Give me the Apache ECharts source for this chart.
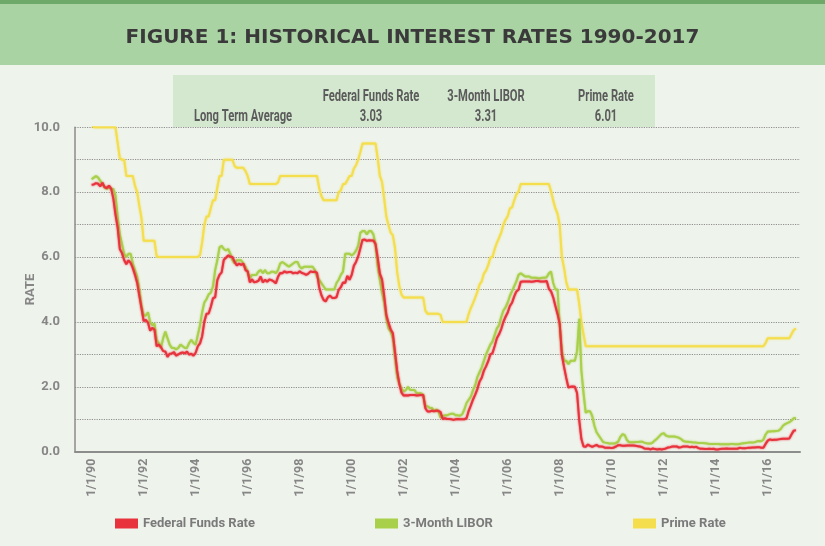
<!DOCTYPE html>
<html>
<head>
<meta charset="utf-8">
<script src="https://cdn.jsdelivr.net/npm/echarts@6/dist/echarts.min.js"></script>
<style>
  html, body { margin: 0; padding: 0; background: #eef3ec; }
  #chart { width: 825px; height: 546px; }
</style>
</head>
<body>
<div id="chart"></div>
<script>
// monthly averages, Jan 1990 .. Feb 2017
const startYear = 1990;

const fedFunds = [
  8.23, 8.24, 8.28, 8.26, 8.18, 8.29, 8.15, 8.13, 8.20, 8.11, 7.81, 7.31,
  6.91, 6.25, 6.12, 5.91, 5.78, 5.90, 5.82, 5.66, 5.45, 5.21, 4.81, 4.43,
  4.03, 4.06, 3.98, 3.73, 3.82, 3.76, 3.25, 3.30, 3.22, 3.10, 3.09, 2.92,
  3.02, 3.03, 3.07, 2.96, 3.00, 3.04, 3.06, 3.03, 3.09, 2.99, 3.02, 2.96,
  3.05, 3.25, 3.34, 3.56, 4.01, 4.25, 4.26, 4.47, 4.73, 4.76, 5.29, 5.45,
  5.53, 5.92, 5.98, 6.05, 6.01, 6.00, 5.85, 5.74, 5.80, 5.76, 5.80, 5.60,
  5.56, 5.22, 5.31, 5.22, 5.24, 5.27, 5.40, 5.22, 5.30, 5.24, 5.31, 5.29,
  5.25, 5.19, 5.39, 5.51, 5.50, 5.56, 5.52, 5.54, 5.54, 5.50, 5.52, 5.50,
  5.56, 5.51, 5.49, 5.45, 5.49, 5.56, 5.54, 5.55, 5.51, 5.07, 4.83, 4.68,
  4.63, 4.76, 4.81, 4.74, 4.74, 4.76, 4.99, 5.07, 5.22, 5.20, 5.42, 5.30,
  5.45, 5.73, 5.85, 6.02, 6.27, 6.53, 6.54, 6.50, 6.52, 6.51, 6.51, 6.40,
  5.98, 5.49, 5.31, 4.80, 4.21, 3.97, 3.77, 3.65, 3.07, 2.49, 2.09, 1.82,
  1.73, 1.74, 1.73, 1.75, 1.75, 1.75, 1.73, 1.74, 1.75, 1.75, 1.34, 1.24,
  1.24, 1.26, 1.25, 1.26, 1.26, 1.22, 1.01, 1.03, 1.01, 1.01, 1.00, 0.98,
  1.00, 1.01, 1.00, 1.00, 1.00, 1.03, 1.26, 1.43, 1.61, 1.76, 1.93, 2.16,
  2.28, 2.50, 2.63, 2.79, 3.00, 3.04, 3.26, 3.50, 3.62, 3.78, 4.00, 4.16,
  4.29, 4.49, 4.59, 4.79, 4.94, 4.99, 5.24, 5.25, 5.25, 5.25, 5.25, 5.24,
  5.25, 5.26, 5.26, 5.25, 5.25, 5.25, 5.26, 5.02, 4.94, 4.76, 4.49, 4.24,
  3.94, 2.98, 2.61, 2.28, 1.98, 2.00, 2.01, 2.00, 1.81, 0.97, 0.39, 0.16,
  0.15, 0.22, 0.18, 0.15, 0.18, 0.21, 0.16, 0.16, 0.15, 0.12, 0.12, 0.12,
  0.11, 0.13, 0.16, 0.20, 0.20, 0.18, 0.18, 0.19, 0.19, 0.19, 0.19, 0.18,
  0.17, 0.16, 0.14, 0.10, 0.09, 0.09, 0.07, 0.10, 0.08, 0.07, 0.08, 0.07,
  0.08, 0.10, 0.13, 0.14, 0.16, 0.16, 0.16, 0.13, 0.14, 0.16, 0.16, 0.16,
  0.14, 0.15, 0.14, 0.15, 0.11, 0.09, 0.09, 0.08, 0.08, 0.09, 0.08, 0.09,
  0.07, 0.07, 0.08, 0.09, 0.09, 0.10, 0.09, 0.09, 0.09, 0.09, 0.09, 0.12,
  0.11, 0.11, 0.11, 0.12, 0.12, 0.13, 0.13, 0.14, 0.14, 0.12, 0.12, 0.24,
  0.34, 0.38, 0.36, 0.37, 0.37, 0.38, 0.39, 0.40, 0.40, 0.40, 0.41, 0.54,
  0.65, 0.66
];

const libor3m = [
  8.40, 8.45, 8.50, 8.45, 8.35, 8.25, 8.15, 8.10, 8.15, 8.10, 8.10, 7.90,
  7.25, 6.70, 6.40, 6.10, 6.00, 6.10, 6.10, 5.80, 5.60, 5.40, 5.00, 4.50,
  4.20, 4.20, 4.30, 4.00, 3.90, 3.95, 3.45, 3.35, 3.20, 3.50, 3.70, 3.50,
  3.30, 3.20, 3.20, 3.15, 3.20, 3.30, 3.25, 3.20, 3.20, 3.35, 3.45, 3.35,
  3.30, 3.60, 3.90, 4.30, 4.60, 4.70, 4.85, 4.90, 5.10, 5.60, 5.90, 6.30,
  6.35, 6.25, 6.20, 6.25, 6.10, 5.90, 5.80, 5.90, 5.90, 5.90, 5.80, 5.70,
  5.55, 5.35, 5.45, 5.45, 5.45, 5.55, 5.60, 5.50, 5.60, 5.50, 5.50, 5.55,
  5.55, 5.50, 5.60, 5.80, 5.85, 5.80, 5.75, 5.70, 5.75, 5.80, 5.85, 5.85,
  5.70, 5.65, 5.70, 5.70, 5.70, 5.70, 5.70, 5.60, 5.40, 5.30, 5.20, 5.10,
  5.00, 5.00, 5.00, 5.00, 5.00, 5.20, 5.30, 5.45, 5.55, 6.10, 6.10, 6.10,
  6.05, 6.10, 6.20, 6.35, 6.75, 6.80, 6.80, 6.70, 6.80, 6.80, 6.70, 6.40,
  5.70, 5.30, 4.90, 4.60, 4.10, 3.80, 3.70, 3.50, 2.90, 2.30, 2.10, 1.95,
  1.85, 1.90, 2.00, 1.90, 1.90, 1.90, 1.80, 1.80, 1.80, 1.75, 1.40, 1.40,
  1.35, 1.35, 1.25, 1.30, 1.25, 1.05, 1.10, 1.12, 1.12, 1.15, 1.17, 1.17,
  1.12, 1.12, 1.11, 1.15, 1.30, 1.50, 1.60, 1.70, 1.90, 2.05, 2.30, 2.45,
  2.60, 2.80, 3.00, 3.15, 3.30, 3.40, 3.60, 3.80, 3.90, 4.15, 4.35, 4.45,
  4.60, 4.80, 4.95, 5.10, 5.25, 5.45, 5.50, 5.45, 5.40, 5.40, 5.40, 5.36,
  5.36, 5.36, 5.35, 5.35, 5.36, 5.36, 5.38, 5.50, 5.55, 5.20, 5.00, 5.00,
  3.90, 3.10, 2.80, 2.80, 2.70, 2.80, 2.80, 2.80, 3.10, 4.10, 2.50, 1.80,
  1.20, 1.25, 1.25, 1.10, 0.80, 0.60, 0.50, 0.40, 0.30, 0.28, 0.27, 0.25,
  0.25, 0.25, 0.27, 0.31, 0.46, 0.54, 0.51, 0.36, 0.29, 0.29, 0.29, 0.30,
  0.30, 0.31, 0.31, 0.28, 0.26, 0.25, 0.25, 0.29, 0.35, 0.41, 0.48, 0.55,
  0.57, 0.50, 0.47, 0.47, 0.47, 0.47, 0.45, 0.43, 0.39, 0.33, 0.31, 0.31,
  0.30, 0.29, 0.28, 0.28, 0.27, 0.27, 0.27, 0.26, 0.25, 0.24, 0.24, 0.24,
  0.24, 0.24, 0.23, 0.23, 0.23, 0.23, 0.23, 0.24, 0.24, 0.23, 0.23, 0.24,
  0.25, 0.26, 0.27, 0.28, 0.28, 0.28, 0.29, 0.32, 0.33, 0.32, 0.37, 0.53,
  0.62, 0.62, 0.63, 0.63, 0.64, 0.65, 0.70, 0.80, 0.85, 0.88, 0.91, 0.96,
  1.03, 1.04
];

const primeRate = [
  10.11, 10.00, 10.00, 10.00, 10.00, 10.00, 10.00, 10.00, 10.00, 10.00, 10.00, 10.00,
  9.52, 9.05, 9.00, 9.00, 8.50, 8.50, 8.50, 8.50, 8.20, 8.00, 7.58, 7.21,
  6.50, 6.50, 6.50, 6.50, 6.50, 6.50, 6.02, 6.00, 6.00, 6.00, 6.00, 6.00,
  6.00, 6.00, 6.00, 6.00, 6.00, 6.00, 6.00, 6.00, 6.00, 6.00, 6.00, 6.00,
  6.00, 6.00, 6.06, 6.45, 6.99, 7.25, 7.25, 7.51, 7.75, 7.75, 8.15, 8.50,
  8.50, 9.00, 9.00, 9.00, 9.00, 9.00, 8.80, 8.75, 8.75, 8.75, 8.75, 8.65,
  8.50, 8.25, 8.25, 8.25, 8.25, 8.25, 8.25, 8.25, 8.25, 8.25, 8.25, 8.25,
  8.25, 8.25, 8.30, 8.50, 8.50, 8.50, 8.50, 8.50, 8.50, 8.50, 8.50, 8.50,
  8.50, 8.50, 8.50, 8.50, 8.50, 8.50, 8.50, 8.50, 8.50, 8.12, 7.89, 7.75,
  7.75, 7.75, 7.75, 7.75, 7.75, 7.75, 8.00, 8.06, 8.25, 8.25, 8.37, 8.50,
  8.50, 8.73, 8.83, 9.00, 9.24, 9.50, 9.50, 9.50, 9.50, 9.50, 9.50, 9.50,
  9.05, 8.50, 8.32, 7.80, 7.24, 6.98, 6.75, 6.67, 6.28, 5.53, 5.10, 4.84,
  4.75, 4.75, 4.75, 4.75, 4.75, 4.75, 4.75, 4.75, 4.75, 4.75, 4.35, 4.25,
  4.25, 4.25, 4.25, 4.25, 4.25, 4.22, 4.00, 4.00, 4.00, 4.00, 4.00, 4.00,
  4.00, 4.00, 4.00, 4.00, 4.00, 4.01, 4.25, 4.43, 4.58, 4.75, 4.93, 5.15,
  5.25, 5.49, 5.58, 5.75, 5.98, 6.01, 6.25, 6.44, 6.59, 6.75, 7.00, 7.15,
  7.26, 7.50, 7.53, 7.75, 7.93, 8.02, 8.25, 8.25, 8.25, 8.25, 8.25, 8.25,
  8.25, 8.25, 8.25, 8.25, 8.25, 8.25, 8.25, 8.25, 8.03, 7.74, 7.50, 7.33,
  6.98, 6.00, 5.66, 5.24, 5.00, 5.00, 5.00, 5.00, 5.00, 4.56, 4.00, 3.61,
  3.25, 3.25, 3.25, 3.25, 3.25, 3.25, 3.25, 3.25, 3.25, 3.25, 3.25, 3.25,
  3.25, 3.25, 3.25, 3.25, 3.25, 3.25, 3.25, 3.25, 3.25, 3.25, 3.25, 3.25,
  3.25, 3.25, 3.25, 3.25, 3.25, 3.25, 3.25, 3.25, 3.25, 3.25, 3.25, 3.25,
  3.25, 3.25, 3.25, 3.25, 3.25, 3.25, 3.25, 3.25, 3.25, 3.25, 3.25, 3.25,
  3.25, 3.25, 3.25, 3.25, 3.25, 3.25, 3.25, 3.25, 3.25, 3.25, 3.25, 3.25,
  3.25, 3.25, 3.25, 3.25, 3.25, 3.25, 3.25, 3.25, 3.25, 3.25, 3.25, 3.25,
  3.25, 3.25, 3.25, 3.25, 3.25, 3.25, 3.25, 3.25, 3.25, 3.25, 3.25, 3.35,
  3.50, 3.50, 3.50, 3.50, 3.50, 3.50, 3.50, 3.50, 3.50, 3.50, 3.50, 3.63,
  3.75, 3.80
];

const seriesNames = ["Federal Funds Rate", "3-Month LIBOR", "Prime Rate"];
const longTermAverage = ["3.03", "3.31", "6.01"];

const FONT = "Roboto, 'Noto Sans', sans-serif";
const GREY = "#868686";
const colors = { fed: "#e8333d", libor: "#a9d04a", prime: "#f4de4e" };

const toPoints = (values) => values.map((v, i) => [startYear + i / 12, v]);

const lineSeries = (name, values, color, z) => ({
  type: "line",
  name: name,
  data: toPoints(values),
  showSymbol: false,
  z: z,
  itemStyle: { color: color },
  lineStyle: { color: color, width: 2, shadowColor: color, shadowBlur: 2 },
  emphasis: { disabled: true },
});

const legendBox = (name, left) => ({
  left: left,
  top: 517,
  padding: 0,
  data: [name],
  icon: "rect",
  itemWidth: 23,
  itemHeight: 10,
  itemGap: 0,
  textStyle: { color: "#7a7a7a", fontFamily: FONT, fontWeight: "bold", fontSize: 13 },
});

// condensed look for the table text: squeeze glyphs horizontally
const tableText = (text, x, y) => ({
  type: "text", z: 5, x: x, y: y, scaleX: 0.7,
  style: { text: text, fill: "#5b5b5b", fontFamily: FONT, fontSize: 16, fontWeight: "bold", align: "center", verticalAlign: "middle" },
});

const tableCols = [371, 486, 606];
const tableGraphics = [
  { type: "rect", z: -10, shape: { x: 173, y: 75, width: 482, height: 52 }, style: { fill: "#d4e8cf" } },
  tableText("Long Term Average", 243, 117),
];
seriesNames.forEach((n, i) => {
  tableGraphics.push(tableText(n, tableCols[i], 97));
  tableGraphics.push(tableText(longTermAverage[i], tableCols[i], 117));
});

const chart = echarts.init(document.getElementById("chart"), null, { renderer: "canvas" });

chart.setOption({
  backgroundColor: "#eef3ec",
  animation: false,
  title: {
    text: "FIGURE 1: HISTORICAL INTEREST RATES 1990-2017",
    left: "center",
    top: 23,
    textStyle: { color: "#3a3a3a", fontFamily: "'DejaVu Sans'", fontWeight: "bold", fontSize: 20 },
  },
  graphic: [
    { type: "rect", z: -20, shape: { x: 0, y: 0, width: 825, height: 65 }, style: { fill: "#aad3a4" } },
    { type: "rect", z: -19, shape: { x: 0, y: 0, width: 825, height: 4 }, style: { fill: "#6ea96a" } },
    ...tableGraphics,
  ],
  grid: { left: 75, right: 25, top: 127.3, bottom: 94.3, outerBoundsMode: "none" },
  legend: [
    legendBox(seriesNames[0], 115),
    legendBox(seriesNames[1], 375),
    legendBox(seriesNames[2], 633),
  ],
  xAxis: {
    type: "value",
    min: 1989.36,
    max: 2017.24,
    splitNumber: 14,
    splitLine: { show: false },
    axisTick: { show: false },
    axisLine: { lineStyle: { color: "#8c8c8c", width: 2 } },
    axisLabel: {
      rotate: 90,
      margin: 7,
      showMinLabel: false,
      showMaxLabel: false,
      color: GREY,
      fontFamily: FONT,
      fontWeight: "bold",
      fontSize: 12.5,
      formatter: (v) => (Number.isInteger(v) && v % 2 === 0 ? "1/1/" + String(v).slice(2) : ""),
    },
  },
  yAxis: {
    type: "value",
    min: 0,
    max: 10,
    interval: 1,
    name: "RATE",
    nameLocation: "middle",
    nameGap: 38,
    nameRotate: 90,
    nameMoveOverlap: false,
    nameTextStyle: { color: GREY, fontFamily: FONT, fontWeight: "bold", fontSize: 13 },
    axisLine: { show: true, lineStyle: { color: "#8c8c8c", width: 1.5 } },
    axisTick: { show: false },
    splitLine: { lineStyle: { color: "#8f8f8f", type: "dotted", width: 1.2 } },
    axisLabel: {
      margin: 15,
      color: GREY,
      fontFamily: FONT,
      fontWeight: "bold",
      fontSize: 13,
      formatter: (v) => (v % 2 === 0 ? v.toFixed(1) : ""),
    },
  },
  series: [
    lineSeries(seriesNames[2], primeRate, colors.prime, 2),
    lineSeries(seriesNames[1], libor3m, colors.libor, 3),
    lineSeries(seriesNames[0], fedFunds, colors.fed, 4),
  ],
});
</script>
</body>
</html>
